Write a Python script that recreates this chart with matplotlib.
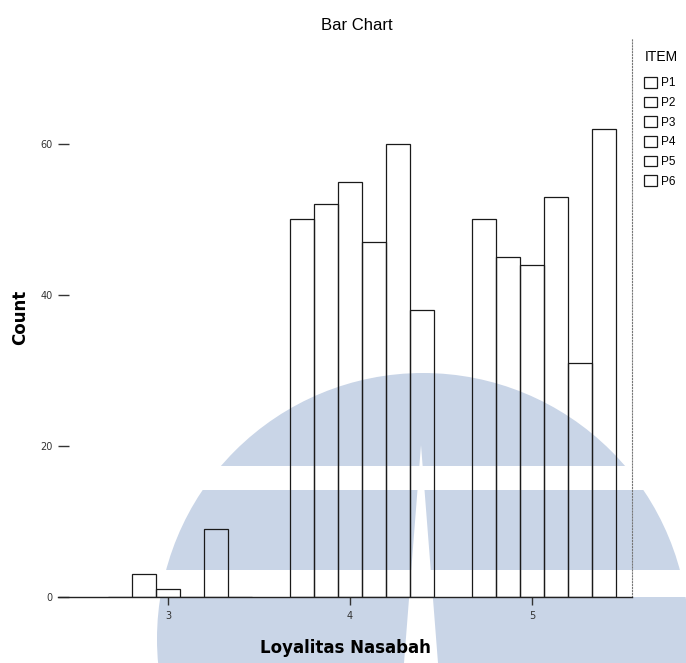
"""
Clustered bar chart of item responses (P1..P6) per Loyalitas Nasabah score,
scanned-report look with the light blue watermark behind it
"""
import numpy as np
import matplotlib.pyplot as plt
from matplotlib.patches import Circle, Rectangle, Polygon

# ---- data ----
categories = [3, 4, 5]
items = ['P1', 'P2', 'P3', 'P4', 'P5', 'P6']
p1 = [0, 50, 50]
p2 = [3, 52, 45]
p3 = [1, 55, 44]
p4 = [0, 47, 53]
p5 = [9, 60, 31]
p6 = [0, 38, 62]
yticks = [0, 20, 40, 60]

counts = [p1, p2, p3, p4, p5, p6]

fig = plt.figure(figsize=(6.86, 6.63), dpi=100, facecolor='white')

# watermark, drawn in pixel coords of the page
bg = fig.add_axes([0, 0, 1, 1], zorder=0)
bg.set_xlim(0, 686); bg.set_ylim(663, 0); bg.axis('off')
wm = '#c9d5e7'
bg.add_patch(Circle((423, 639), 266, color=wm, lw=0))
bg.add_patch(Rectangle((0, 466), 686, 24, color='white', lw=0))
bg.add_patch(Rectangle((0, 570), 686, 27, color='white', lw=0))
bg.add_patch(Polygon([(421, 445), (404, 663), (438, 663)], closed=True, color='white', lw=0))

ax = fig.add_axes([58/686., 66/663., 574/686., 559/663.], zorder=1)
ax.set_facecolor('none')

x = np.array(categories, dtype=float)
w = 24/182.
handles = []
for i, (name, vals) in enumerate(zip(items, counts)):
	b = ax.bar(x + (i - 2.5)*w, vals, width=w, align='edge', fill=False,
			   edgecolor='#1a1a1a', linewidth=0.9, label=name)
	handles.append(b)

ax.set_xlim(3 - 110/182., 3 + 464/182.)
ax.set_ylim(0, 74)
ax.set_xticks(categories); ax.set_xticklabels([str(c) for c in categories])
ax.set_yticks(yticks)
ax.tick_params(axis='y', direction='in', length=8, width=1, pad=4, labelsize=7, colors='#333333')
ax.tick_params(axis='x', direction='out', length=6, width=1, pad=4, labelsize=7, colors='#333333')
for s in ['left', 'top']:
	ax.spines[s].set_visible(False)
ax.spines['bottom'].set_color('#222222'); ax.spines['bottom'].set_linewidth(1.0)
ax.spines['right'].set_linestyle(':'); ax.spines['right'].set_color('#777777')

ax.set_xlabel('Loyalitas Nasabah', fontsize=12, fontweight='bold', family='DejaVu Sans', labelpad=13)
ax.set_ylabel('Count', fontsize=12, fontweight='bold', family='DejaVu Sans', labelpad=8)
fig.text(0.52, 1 - 26/663., 'Bar Chart', ha='center', va='center', fontsize=12, family='Liberation Sans')

fig.text(645/686., 1 - 57/663., 'ITEM', ha='left', va='center', fontsize=10, family='Liberation Sans')
leg = fig.legend(handles=handles, labels=items, loc='upper left',
				 bbox_to_anchor=(644/686., 1 - 77/663.), bbox_transform=fig.transFigure,
				 frameon=False, fontsize=8.5, prop={'family': 'Liberation Sans', 'size': 8.5},
				 handlelength=1.1, handleheight=1.0, handletextpad=0.35,
				 labelspacing=0.62, borderpad=0, borderaxespad=0)

plt.savefig('out.png', dpi=100, facecolor='white')
